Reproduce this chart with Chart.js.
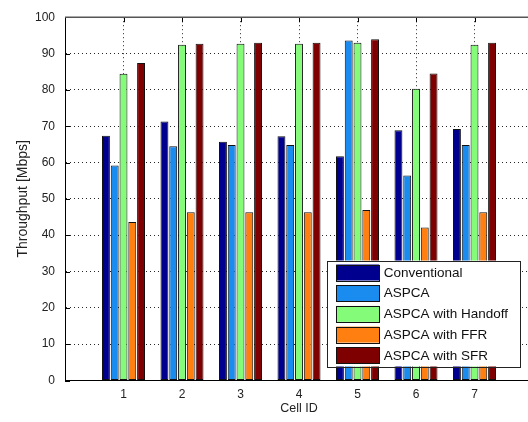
<!DOCTYPE html>
<html>
<head>
<meta charset="utf-8">
<script src="https://cdn.jsdelivr.net/npm/chart.js@4/dist/chart.umd.min.js"></script>
<style>
  html, body { margin: 0; padding: 0; background: #fff; overflow: hidden; }
  #wrap { position: relative; width: 540px; height: 422px; }
</style>
</head>
<body>
<div id="wrap"><canvas id="c"></canvas></div>
<script>
const categories = ['1', '2', '3', '4', '5', '6', '7'];
const conventional = [67.4, 71.3, 65.7, 67.2, 61.7, 68.9, 69.2];
const aspca        = [59.2, 64.5, 64.8, 64.8, 93.6, 56.4, 64.8];
const handoff      = [84.4, 92.4, 92.7, 92.7, 93.0, 80.3, 92.4];
const ffr          = [43.6, 46.3, 46.3, 46.3, 46.9, 42.1, 46.3];
const sfr          = [87.4, 92.7, 93.0, 93.0, 93.9, 84.5, 93.0];
const seriesNames  = ['Conventional', 'ASPCA', 'ASPCA with Handoff', 'ASPCA with FFR', 'ASPCA with SFR'];
const seriesColors = ['#00008f', '#1a8cf0', '#85fb7a', '#ff7f10', '#7f0000'];
const yTicks = [0, 10, 20, 30, 40, 50, 60, 70, 80, 90, 100];

const axisFont = "'Liberation Sans Narrow', 'Arial Narrow', 'Liberation Sans', Arial, sans-serif";
const legFont = "'Liberation Sans', Arial, sans-serif";

// x axis runs from 0 to 8 (empty end slots)
const xLabels = [''].concat(categories, ['']);
const pad = arr => [null].concat(arr, [null]);
const allSeries = [conventional, aspca, handoff, ffr, sfr];

const datasets = allSeries.map((s, i) => ({
  label: seriesNames[i],
  data: pad(s),
  backgroundColor: seriesColors[i],
  borderColor: '#111',
  borderWidth: 1,
  borderSkipped: false,
  categoryPercentage: 0.75,
  barPercentage: 0.9
}));

const framePlugin = {
  id: 'frame',
  beforeDatasetsDraw(chart) {
    const {ctx, chartArea: a, scales: {x, y}} = chart;
    ctx.save();
    ctx.strokeStyle = '#000';
    ctx.lineWidth = 1;
    ctx.beginPath();
    // inward ticks on left and right
    yTicks.forEach(v => {
      const py = Math.round(y.getPixelForValue(v)) + 0.5;
      ctx.moveTo(a.left, py); ctx.lineTo(a.left + 5, py);
      ctx.moveTo(a.right, py); ctx.lineTo(a.right - 5, py);
    });
    // inward ticks on top and bottom
    categories.forEach((c, i) => {
      const px = Math.round(x.getPixelForValue(i + 1)) + 0.5;
      ctx.moveTo(px, a.top); ctx.lineTo(px, a.top + 5);
      ctx.moveTo(px, a.bottom); ctx.lineTo(px, a.bottom - 5);
    });
    ctx.stroke();
    // top and right frame lines
    ctx.strokeStyle = '#555';
    ctx.lineWidth = 1.5;
    ctx.beginPath();
    ctx.moveTo(a.left, a.top); ctx.lineTo(a.right, a.top); ctx.lineTo(a.right, a.bottom);
    ctx.stroke();
    ctx.restore();
  },
  afterDatasetsDraw(chart) {
    const {ctx, chartArea: a} = chart;
    const w = 192.6, h = 106;
    const bx = a.right - 13.7 - w;
    const by = a.bottom - 14 - h;
    ctx.save();
    ctx.fillStyle = '#fff';
    ctx.fillRect(bx, by, w, h);
    ctx.strokeStyle = '#222';
    ctx.lineWidth = 1;
    ctx.strokeRect(Math.round(bx) + 0.5, Math.round(by) + 0.5, Math.round(w), Math.round(h));
    ctx.font = "13.5px " + legFont;
    ctx.textBaseline = 'middle';
    chart.data.datasets.forEach((ds, i) => {
      const sy = by + 4 + i * 20.7;
      ctx.fillStyle = ds.backgroundColor;
      ctx.fillRect(bx + 9.5, sy, 43, 16);
      ctx.strokeStyle = '#111';
      ctx.strokeRect(Math.round(bx + 9.5) + 0.5, Math.round(sy) + 0.5, 43, 16);
      ctx.fillStyle = '#111';
      ctx.fillText(ds.label, bx + 57, sy + 8.5);
    });
    ctx.restore();
  }
};

new Chart(document.getElementById('c'), {
  type: 'bar',
  data: { labels: xLabels, datasets },
  plugins: [framePlugin],
  options: {
    responsive: true,
    maintainAspectRatio: false,
    animation: false,
    events: [],
    layout: { padding: { left: 0, right: 7, top: 14, bottom: 0 } },
    plugins: { legend: { display: false }, tooltip: { enabled: false } },
    scales: {
      x: {
        offset: false,
        grid: {
          offset: false,
          drawTicks: false,
          color: ctx => (ctx.index === 0 || ctx.index === xLabels.length - 1) ? 'rgba(0,0,0,0)' : 'rgba(0,0,0,0.85)',
          lineWidth: 1
        },
        border: { display: true, color: '#000', width: 1, dash: [1, 3] },
        ticks: { color: '#222', font: { family: axisFont, size: 12 }, padding: 7, maxRotation: 0, autoSkip: false },
        title: { display: true, text: 'Cell ID', color: '#222', font: { family: axisFont, size: 12.5 }, padding: { top: 0, bottom: 6 } },
        afterFit: s => { s.height = 41.5; }
      },
      y: {
        min: 0, max: 100,
        afterBuildTicks: s => { s.ticks = yTicks.map(v => ({ value: v })); },
        grid: {
          drawTicks: false,
          color: ctx => (ctx.tick && (ctx.tick.value === 0 || ctx.tick.value === 100)) ? 'rgba(0,0,0,0)' : 'rgba(0,0,0,0.85)',
          lineWidth: 1
        },
        border: { display: true, color: '#000', width: 1, dash: [1, 3] },
        ticks: { color: '#222', font: { family: axisFont, size: 12 }, padding: 10 },
        title: { display: true, text: 'Throughput [Mbps]', color: '#222', font: { family: legFont, size: 14 }, padding: { top: 15, bottom: 0 } },
        afterFit: s => { s.width = 65; }
      }
    }
  }
});
</script>
</body>
</html>
